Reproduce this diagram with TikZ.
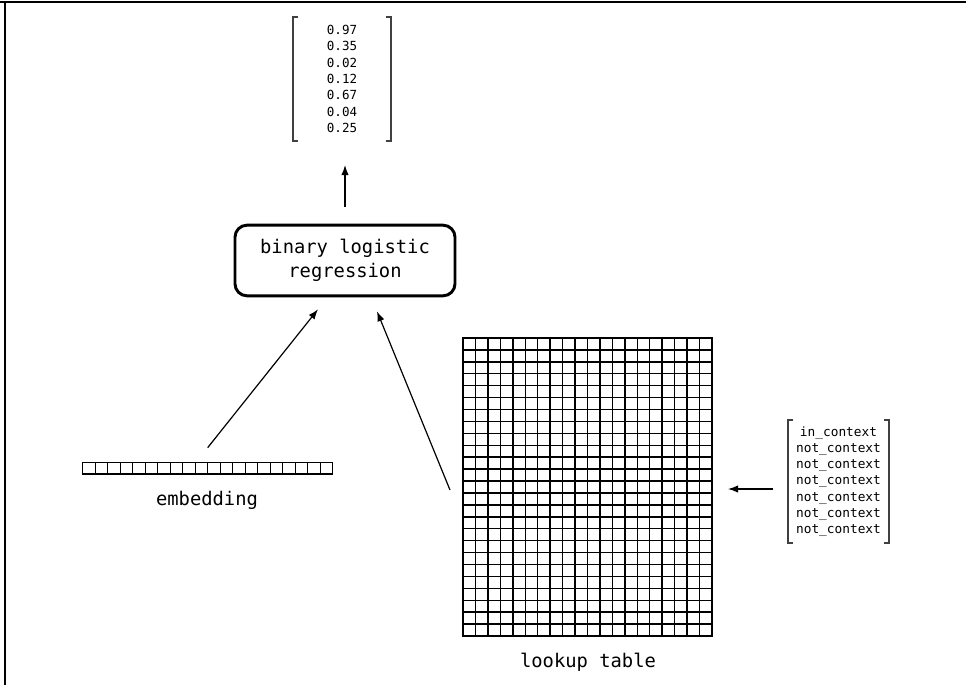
\documentclass[tikz,border=0pt]{standalone}
\usepackage{fontspec}
\setmonofont{DejaVu Sans Mono}
\usepackage{tikz}
\usetikzlibrary{calc}
\usetikzlibrary{arrows.meta}

\begin{document}
\begin{tikzpicture}[
		x=0.75pt, y=-0.75pt,
		vec/.style = {rectangle, inner sep=0, outer sep=0, align=center, font=\ttfamily\fontsize{9.4}{12.3}\selectfont},
		brk/.style = {line width=1pt, black!75},
		lr/.style = {rectangle, draw, line width=2.2pt, rounded corners=9pt, minimum width=165pt, minimum height=53pt, align=center, font=\ttfamily\fontsize{14.1}{18}\selectfont},
		cellbox/.style = {rectangle, draw, line width=1.1pt, inner sep=0, outer sep=0},
		lbl/.style = {font=\ttfamily\fontsize{14.1}{17}\selectfont},
		r/.style = {-{Latex[length=7.5pt, width=5.5pt]}, line width=0.9pt}
		]
		\useasboundingbox (0,0) rectangle (966,685);
		
		%Frame
		\draw[line width=1.5pt] (0,2) -- (966,2);
		\draw[line width=1.5pt] (5,2) -- (5,685);
		
		%Nodes
		\node[vec, minimum width=73.5pt, minimum height=93pt]	(probs)	at	(342, 79)	{0.97\\0.35\\0.02\\0.12\\0.67\\0.04\\0.25};
		\node[lr]	(blr)	at	(345, 260.5)	{binary logistic\\regression};
		\node[cellbox, line width=0.9pt, minimum width=187.5pt, minimum height=8.5pt]	(emb)	at	(207.7, 468.3)	{};
		\node[lbl]	(embl)	at	(207, 500)	{embedding};
		\node[cellbox, minimum width=186.75pt, minimum height=223.5pt]	(lut)	at	(587.5, 487)	{};
		\node[lbl]	(lutl)	at	(588, 662)	{lookup table};
		\node[vec, font=\ttfamily\fontsize{9.6}{12.2}\selectfont, minimum width=75.75pt, minimum height=92.25pt]	(ctx)	at	(838.5, 481.5)
			{in\_context\\not\_context\\not\_context\\not\_context\\not\_context\\not\_context\\not\_context};
		
		%Cells
		\foreach \i in {1,...,19}
			\draw[line width=0.9pt] ($(emb.north west)+(\i*12.5,0)$) -- ($(emb.south west)+(\i*12.5,0)$);
		\foreach \i in {1,...,19}
			\draw[line width=1.1pt] ($(lut.north west)+(\i*12.45,0)$) -- ($(lut.south west)+(\i*12.45,0)$);
		\foreach \j in {1,...,24}
			\draw[line width=1.1pt] ($(lut.north west)+(0,\j*11.92)$) -- ($(lut.north east)+(0,\j*11.92)$);
		
		%Brackets
		\draw[brk] ([xshift=4pt]probs.north west) -- (probs.north west) -- (probs.south west) -- ([xshift=4pt]probs.south west);
		\draw[brk] ([xshift=-4pt]probs.north east) -- (probs.north east) -- (probs.south east) -- ([xshift=-4pt]probs.south east);
		\draw[brk] ([xshift=4pt]ctx.north west) -- (ctx.north west) -- (ctx.south west) -- ([xshift=4pt]ctx.south west);
		\draw[brk] ([xshift=-4pt]ctx.north east) -- (ctx.north east) -- (ctx.south east) -- ([xshift=-4pt]ctx.south east);
		
		%Lines
		\draw[r]	($(blr.north)+(0,-17)$)	--	($(probs.south)+(3,24)$);
		\draw[r]	($(emb.north)+(0,-15)$)	--	($(blr.south)+(-27,12)$);
		\draw[r]	($(lut.west)+(-13,3)$)	--	($(blr.south)+(32,14)$);
		\draw[r]	($(ctx.west)+(-15,7.5)$)	--	($(lut.east)+(16,2)$);
	\end{tikzpicture}
\end{document}
